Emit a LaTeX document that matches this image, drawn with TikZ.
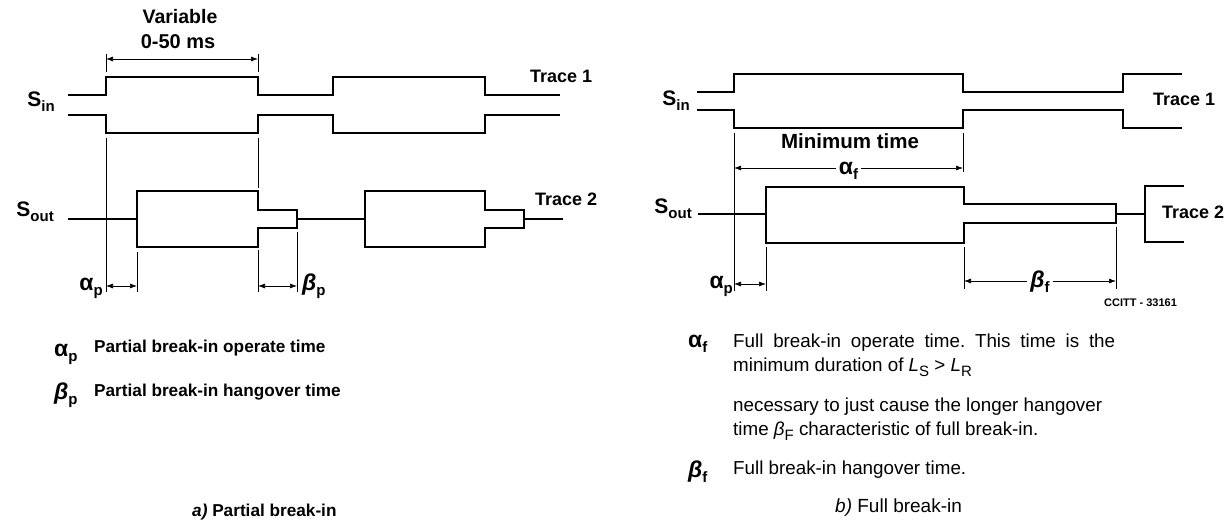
\documentclass[tikz,border=0pt]{standalone}
\usepackage{fontspec}
\setmainfont{Liberation Sans}
\usetikzlibrary{arrows.meta}
\frenchspacing
% lowered subscript, as printed in the figure
\newcommand{\lowsub}[2][15]{\raisebox{-5pt}{\fontsize{#1}{#1}\selectfont #2}}

\begin{document}
\begin{tikzpicture}[
		x=1pt, y=-1pt,
		line cap=butt, line join=miter,
		>={Latex[length=7pt,width=5pt]},
		% --- line styles ---
		trace/.style={line width=2.2pt},
		guide/.style={line width=0.7pt},
		dimline/.style={guide, <->},
		% --- text styles ---
		lbl/.style={inner sep=0pt, font=\bfseries\fontsize{18}{20}\selectfont},
		sig/.style={inner sep=0pt, anchor=east, font=\bfseries\fontsize{21}{22}\selectfont},
		txtl/.style={inner sep=0pt, anchor=west, font=\bfseries\fontsize{17.2}{20}\selectfont},
		txtr/.style={inner sep=0pt, anchor=west, font=\fontsize{18.8}{23.5}\selectfont},
		sym/.style={inner sep=0pt, anchor=base west, font=\bfseries\fontsize{23}{24}\selectfont}
		]
		\useasboundingbox (0,0) rectangle (1225,524);
		
		% ---------- Levels (pixel rows) ----------
		\def\Lup{95}   \def\Lhi{77}    % left S_in, upper trace
		\def\Llo{115}  \def\Ldn{133}   % left S_in, lower trace
		\def\Rup{92}   \def\Rhi{74}    % right S_in, upper trace
		\def\Rlo{110}  \def\Rdn{128}   % right S_in, lower trace
		\def\Rtx{733}  % left edge of the right legend text
		
		% ================= a) Partial break-in =================
		
		% ---------- S_in (trace 1) ----------
		\draw[trace] (68,\Lup) -| (106,\Lhi) -| (258,\Lup) -| (333,\Lhi) -| (485,\Lup) -- (560,\Lup);
		\draw[trace] (68,\Llo) -| (106,\Ldn) -| (258,\Llo) -| (333,\Ldn) -| (485,\Llo) -- (560,\Llo);
		\node[sig] (sinA) at (55,102) {S\lowsub{in}};
		\node[lbl, anchor=west] (trA1) at (530,76) {Trace 1};
		
		% ---------- S_out (trace 2) ----------
		\foreach \xa/\xb/\xc in {137/258/297, 365/485/524}{
			\draw[trace] (\xa,191) -| (\xb,210) -| (\xc,228) -| (\xb,247) -| (\xa,191) -- cycle;
		}
		\draw[trace] (68,219) -- (137,219);
		\draw[trace] (297,219) -- (365,219);
		\draw[trace] (524,219) -- (563,219);
		\node[sig] (soutA) at (54,212) {S\lowsub{out}};
		\node[lbl, anchor=west] (trA2) at (535,199) {Trace 2};
		
		% ---------- Variable 0-50 ms ----------
		\draw[guide] (106,54) -- (106,72);
		\draw[guide] (258,54) -- (258,72);
		\draw[dimline] (106,59) -- (258,59);
		\node[lbl, font=\bfseries\fontsize{19.5}{22}\selectfont] (varA) at (180,17) {Variable};
		\node[lbl, font=\bfseries\fontsize{20}{22}\selectfont] (msA) at (178,42) {0-50 ms};
		
		% ---------- Timing marks ----------
		\draw[guide] (106,138) -- (106,292);
		\draw[guide] (258,138) -- (258,188);
		\draw[guide] (258,250) -- (258,292);
		\draw[guide] (137,252) -- (137,292);
		\draw[guide] (297,232) -- (297,292);
		\draw[dimline] (106,286) -- (137,286);
		\draw[dimline] (258,286) -- (297,286);
		\node[sym, anchor=base east] (apA) at (103,290) {α\lowsub{p}};
		\node[sym] (bpA) at (302,290) {\textit{β}\lowsub{p}};
		
		% ---------- Legend ----------
		\node[sym] (apL) at (54,356) {α\lowsub{p}};
		\node[txtl] (apT) at (94,348) {Partial break-in operate time};
		\node[sym] (bpL) at (54,399) {\textit{β}\lowsub{p}};
		\node[txtl] (bpT) at (94,392) {Partial break-in hangover time};
		\node[txtl] (capA) at (192,512) {\textit{a)} Partial break-in};
		
		% ================= b) Full break-in =================
		
		% ---------- S_in (trace 1) ----------
		\draw[trace] (697,\Rup) -| (734,\Rhi) -| (963,\Rup) -| (1123,\Rhi) -- (1182,\Rhi);
		\draw[trace] (697,\Rlo) -| (734,\Rdn) -| (963,\Rlo) -| (1123,\Rdn) -- (1182,\Rdn);
		\node[sig] (sinB) at (690,101) {S\lowsub{in}};
		\node[lbl, anchor=west] (trB1) at (1153,99) {Trace 1};
		
		% ---------- S_out (trace 2) ----------
		\draw[trace] (766,187) -| (964,204) -| (1116,223) -| (964,243) -| (766,187) -- cycle;
		\draw[trace] (698,214) -- (766,214);
		\draw[trace] (1116,214) -- (1145,214);
		\draw[trace] (1184,186) -- (1145,186) -- (1145,242) -- (1184,242);
		\node[sig] (soutB) at (692,209) {S\lowsub{out}};
		\node[lbl, anchor=west] (trB2) at (1162,212) {Trace 2};
		
		% ---------- Minimum time ----------
		\draw[guide] (734,133) -- (734,291);
		\draw[guide] (963,133) -- (963,172);
		\draw[dimline] (734,168) -- node[sym, anchor=base, fill=white, inner xsep=3pt, inner ysep=0pt, yshift=-6pt] (afB) {α\lowsub{f}} (963,168);
		\node[lbl, font=\bfseries\fontsize{20.5}{22}\selectfont] (minB) at (850,141) {Minimum time};
		
		% ---------- Timing marks ----------
		\draw[guide] (766,247) -- (766,291);
		\draw[guide] (964,247) -- (964,289);
		\draw[guide] (1116,227) -- (1116,289);
		\draw[dimline] (734,284) -- (766,284);
		\draw[dimline] (964,281) -- node[sym, anchor=base, fill=white, inner xsep=3pt, inner ysep=0pt, yshift=-6pt] (bfB) {\textit{β}\lowsub{f}} (1116,281);
		\node[sym, anchor=base east] (apB) at (733,288) {α\lowsub{p}};
		\node[inner sep=0pt, anchor=west, font=\bfseries\fontsize{11}{12}\selectfont] (ccitt) at (1104,303) {CCITT - 33161};
		
		% ---------- Legend ----------
		\node[sym] (afL) at (688,347) {α\lowsub{f}};
		\node[txtr, anchor=north west, text width=382pt, align=justify] (afT) at (\Rtx,334)
		{Full break-in operate time. This time is the\linebreak
			minimum duration of \textit{L}\lowsub{S} > \textit{L}\lowsub{R}};
		\node[txtr, anchor=north west, align=left] (afT2) at (\Rtx,398)
		{necessary to just cause the longer hangover\\
			time \textit{β}\lowsub{F} characteristic of full break-in.};
		\node[sym] (bfL) at (688,477) {\textit{β}\lowsub{f}};
		\node[txtr] (bfT) at (\Rtx,470) {Full break-in hangover time.};
		\node[txtr, font=\fontsize{19}{22}\selectfont] (capB) at (835,508) {\textit{b)} Full break-in};
		
	\end{tikzpicture}
\end{document}
